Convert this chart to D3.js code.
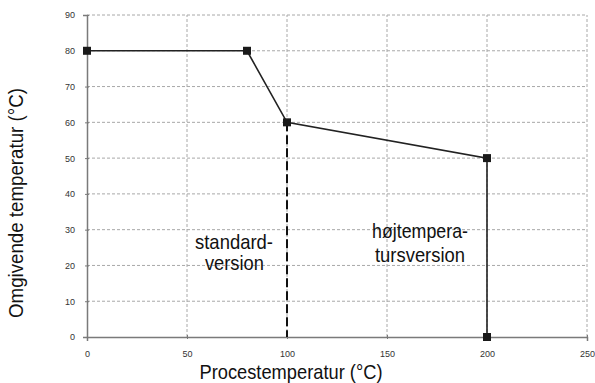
<!DOCTYPE html>
<html><head><meta charset="utf-8">
<script src="https://cdn.jsdelivr.net/npm/d3@7"></script>
<style>body{margin:0;background:#fff}svg{display:block}</style>
</head><body>
<script>
const xTicks = [0, 50, 100, 150, 200, 250];
const yTicks = [0, 10, 20, 30, 40, 50, 60, 70, 80, 90];
const solidX = [0, 80, 100, 200, 200];
const solidY = [80, 80, 60, 50, 0];
const dashedX = [100, 100];
const dashedY = [60, 0];
const xTitle = "Procestemperatur (°C)";
const yTitle = "Omgivende temperatur (°C)";
const labelStd = ["standard-", "version"];
const labelHigh = ["højtempera-", "tursversion"];

const W = 595, H = 383;
const m = {l: 87, r: 8, t: 15, b: 46};
const svg = d3.select("body").append("svg").attr("width", W).attr("height", H);
const x = d3.scaleLinear().domain([0, 250]).range([m.l, W - m.r]);
const y = d3.scaleLinear().domain([0, 90]).range([H - m.b, m.t]);
const font = "'Liberation Sans',Arial,sans-serif";

// grid
const g = svg.append("g");
g.selectAll(".gy").data(yTicks.filter(d => d > 0)).join("line")
  .attr("x1", x(0)).attr("x2", x(250)).attr("y1", d => y(d)).attr("y2", d => y(d))
  .attr("stroke", "#a8a8a8").attr("stroke-width", 1).attr("stroke-dasharray", "3,2");
g.selectAll(".gx").data(xTicks.filter(d => d > 0)).join("line")
  .attr("x1", d => x(d)).attr("x2", d => x(d)).attr("y1", y(0)).attr("y2", y(90))
  .attr("stroke", "#a8a8a8").attr("stroke-width", 1).attr("stroke-dasharray", "3,2");

// axes
const xa = svg.append("g").attr("transform", `translate(0,${y(0)})`)
  .call(d3.axisBottom(x).tickValues(xTicks).tickSize(4).tickPadding(10));
const ya = svg.append("g").attr("transform", `translate(${x(0)},0)`)
  .call(d3.axisLeft(y).tickValues(yTicks).tickSize(4).tickPadding(8));
[xa, ya].forEach(a => {
  a.select(".domain").attr("stroke", "#7a7a7a").attr("stroke-width", 1.5);
  a.selectAll(".tick line").attr("stroke", "#7a7a7a");
  a.selectAll("text").attr("font-family", font)
    .attr("font-size", 9).attr("fill", "#333");
});
xa.selectAll(".tick line").attr("y1", -2).attr("y2", 2);
ya.selectAll(".tick line").attr("x1", -2).attr("x2", 2);

// lines
const pts = solidX.map((v, i) => [v, solidY[i]]);
const dpts = dashedX.map((v, i) => [v, dashedY[i]]);
const line = d3.line().x(d => x(d[0])).y(d => y(d[1]));
svg.append("path").attr("d", line(dpts)).attr("fill", "none")
  .attr("stroke", "#111").attr("stroke-width", 2).attr("stroke-dasharray", "9,4");
svg.append("path").attr("d", line(pts)).attr("fill", "none")
  .attr("stroke", "#222").attr("stroke-width", 1.6);
svg.selectAll(".mk").data(pts).join("rect")
  .attr("x", d => x(d[0]) - 4).attr("y", d => y(d[1]) - 4)
  .attr("width", 8).attr("height", 8).attr("fill", "#1a1a1a");

// annotations
function txt(s, cx, by, size, len) {
  svg.append("text").attr("x", cx).attr("y", by).attr("text-anchor", "middle")
    .attr("font-family", font).attr("font-size", size).attr("fill", "#111")
    .attr("textLength", len).attr("lengthAdjust", "spacingAndGlyphs").text(s);
}
txt(labelStd[0], x(73.5), 249, 21, 78);
txt(labelStd[1], x(73.7), 270, 21, 59);
txt(labelHigh[0], x(166.5), 238, 21, 96);
txt(labelHigh[1], x(166.5), 262, 21, 90);

// titles
txt(xTitle, x(102), 379, 21, 183);
svg.append("text").attr("transform", `translate(23,${203}) rotate(-90)`)
  .attr("text-anchor", "middle").attr("font-family", font).attr("font-size", 21)
  .attr("fill", "#111").attr("textLength", 230).attr("lengthAdjust", "spacingAndGlyphs")
  .text(yTitle);
</script>
</body></html>
